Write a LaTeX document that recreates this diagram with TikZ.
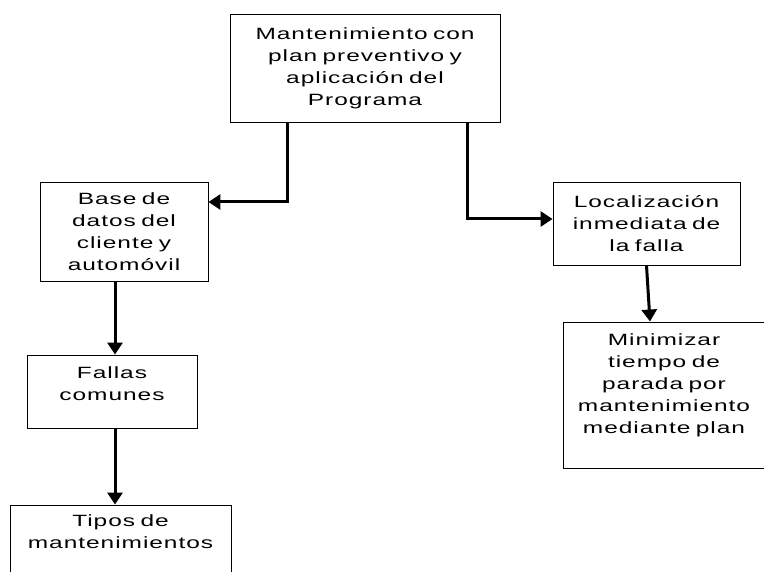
\documentclass[tikz,border=0pt]{standalone}
\usepackage{fontspec}
\setmainfont{Liberation Sans}[FakeStretch=1.5,LetterSpace=6]
\usetikzlibrary{arrows.meta}

\tikzset{
  caja/.style={draw, line width=0.9pt, inner sep=0pt, align=center,
    font=\fontsize{16.3}{22}\selectfont},
  flecha/.style={line width=3pt, -{Triangle[length=12pt,width=15pt]}},
}

\begin{document}
\begin{tikzpicture}[x=1pt,y=-1pt]
    \useasboundingbox (0,0) rectangle (764,572);
    \clip (0,0) rectangle (764,572);

    \node[caja, minimum width=270pt, minimum height=108pt, text width=260pt] (prog) at (365,68)
      {Mantenimiento con\\plan preventivo y\\aplicación del\\Programa};
    \node[caja, minimum width=168pt, minimum height=99pt, text width=164pt] (base) at (124,231.5)
      {Base de\\datos del\\cliente y\\automóvil};
    \node[caja, minimum width=170pt, minimum height=73pt, text width=164pt] (fallas) at (112,391.5)
      {Fallas\\comunes\\[-7pt]~};
    \node[caja, minimum width=221pt, minimum height=98pt, text width=215pt] (tipos) at (120.5,554)
      {Tipos de\\mantenimientos\\~\\~};
    \node[caja, minimum width=187pt, minimum height=83pt, text width=181pt] (loc) at (646.5,223.5)
      {Localización\\inmediata de\\la falla};
    \node[caja, minimum width=202pt, minimum height=146pt, text width=196pt] (mini) at (664,395)
      {Minimizar\\tiempo de\\parada por\\mantenimiento\\mediante plan\\~};

    % codos de las flechas
    \coordinate (j1) at (287,202);
    \coordinate (j2) at (467,219);
    \coordinate (j3) at (115,0);

    \draw[flecha] (prog.south -| j1) |- (base.east |- j1);
    \draw[flecha] (prog.south -| j2) |- (loc.west |- j2);
    \draw[flecha] (base.south -| j3) -- (fallas.north -| j3);
    \draw[flecha] (fallas.south -| j3) -- (tipos.north -| j3);
    \draw[flecha] (loc.south) -- ([xshift=-14pt]mini.north);
\end{tikzpicture}
\end{document}
